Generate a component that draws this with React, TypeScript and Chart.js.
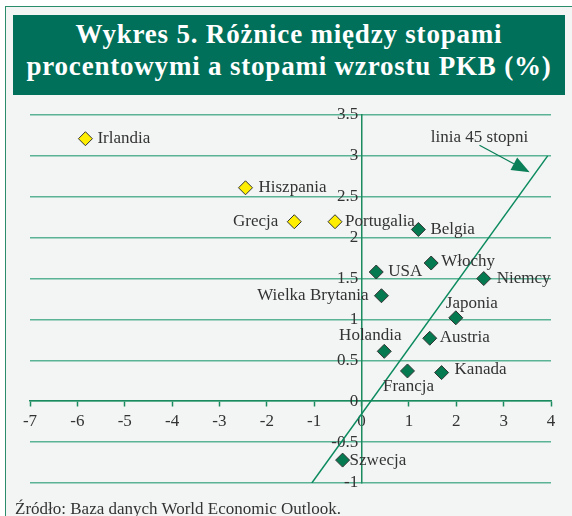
import React, { useEffect, useRef } from 'react';
import { Chart, registerables } from 'chart.js';

Chart.register(...registerables);

// ---- data ----
const peripheryCountries = ['Irlandia', 'Hiszpania', 'Grecja', 'Portugalia'];
const peripheryX = [-5.83, -2.45, -1.42, -0.56];
const peripheryY = [3.21, 2.61, 2.195, 2.195];

const coreCountries = ['Belgia', 'Włochy', 'USA', 'Niemcy', 'Wielka Brytania', 'Japonia', 'Austria', 'Holandia', 'Francja', 'Kanada', 'Szwecja'];
const coreX = [1.2, 1.47, 0.31, 2.58, 0.42, 1.99, 1.44, 0.48, 0.97, 1.69, -0.4];
const coreY = [2.1, 1.69, 1.58, 1.5, 1.29, 1.02, 0.77, 0.61, 0.37, 0.35, -0.72];

const refLineX = [-1.05, 3.93];
const refLineY = [-1, 3];

const xTickRange = [-7, 4];
const yTickRange = [-1, 3.5];

const annotationText = 'linia 45 stopni';
const annotationTextPos = [2.49, 3.22];
const arrowFrom = [2.49, 3.13];
const arrowTo = [3.55, 2.8];

const titleLines = ['Wykres 5. Różnice między stopami', 'procentowymi a stopami wzrostu PKB (%)'];
const sourceText = 'Źródło: Baza danych World Economic Outlook.';

// ---- label placement (style) ----
const labelPlacement: Record<string, [number, number, CanvasTextAlign]> = {
  'Irlandia': [12, 0, 'left'],
  'Hiszpania': [13, 0, 'left'],
  'Grecja': [-16, 0, 'right'],
  'Portugalia': [10, 0, 'left'],
  'Belgia': [12, 0, 'left'],
  'Włochy': [10, -1, 'left'],
  'USA': [12, 0, 'left'],
  'Niemcy': [13, 0, 'left'],
  'Wielka Brytania': [-13, 0, 'right'],
  'Japonia': [-10, -14, 'left'],
  'Austria': [10, -1, 'left'],
  'Holandia': [-14, -16, 'center'],
  'Francja': [1, 16, 'center'],
  'Kanada': [13, -3, 'left'],
  'Szwecja': [7, 0, 'left'],
};

const GREEN = '#1b8a5f';
const GRID = '#5ab493';
const TEXT = '#333333';
const FONT = '"Liberation Serif", "Times New Roman", serif';

const labelsPlugin = {
  id: 'pointLabels',
  afterDatasetsDraw(chart: any) {
    const { ctx } = chart;
    const xs = chart.scales.x;
    const ys = chart.scales.y;
    ctx.save();
    ctx.font = '17px ' + FONT;
    ctx.fillStyle = TEXT;
    ctx.textBaseline = 'middle';
    const groups: [string[], number[], number[]][] = [
      [peripheryCountries, peripheryX, peripheryY],
      [coreCountries, coreX, coreY],
    ];
    for (const [names, xv, yv] of groups) {
      names.forEach((name, i) => {
        const [dx, dy, align] = labelPlacement[name];
        ctx.textAlign = align;
        ctx.fillText(name, xs.getPixelForValue(xv[i]) + dx, ys.getPixelForValue(yv[i]) + dy);
      });
    }
    // annotation
    ctx.textAlign = 'center';
    ctx.fillText(annotationText, xs.getPixelForValue(annotationTextPos[0]), ys.getPixelForValue(annotationTextPos[1]));
    const x1 = xs.getPixelForValue(arrowFrom[0]);
    const y1 = ys.getPixelForValue(arrowFrom[1]);
    const x2 = xs.getPixelForValue(arrowTo[0]);
    const y2 = ys.getPixelForValue(arrowTo[1]);
    const ang = Math.atan2(y2 - y1, x2 - x1);
    const headLen = 18;
    const headHalf = 7;
    const bx = x2 - headLen * Math.cos(ang);
    const by = y2 - headLen * Math.sin(ang);
    ctx.strokeStyle = '#0b7f57';
    ctx.fillStyle = '#0b7f57';
    ctx.lineWidth = 1.3;
    ctx.beginPath();
    ctx.moveTo(x1, y1);
    ctx.lineTo(bx, by);
    ctx.stroke();
    ctx.beginPath();
    ctx.moveTo(x2, y2);
    ctx.lineTo(bx + headHalf * Math.sin(ang), by - headHalf * Math.cos(ang));
    ctx.lineTo(bx - headHalf * Math.sin(ang), by + headHalf * Math.cos(ang));
    ctx.closePath();
    ctx.fill();
    ctx.restore();
  },
};

function ScatterChart() {
  const ref = useRef<HTMLCanvasElement>(null);
  useEffect(() => {
    if (!ref.current) return;
    const chart = new Chart(ref.current, {
      type: 'scatter',
      data: {
        datasets: [
          {
            type: 'line',
            data: refLineX.map((x, i) => ({ x, y: refLineY[i] })),
            borderColor: '#0b8a5e',
            borderWidth: 1.5,
            pointRadius: 0,
            fill: false,
          } as any,
          {
            data: peripheryX.map((x, i) => ({ x, y: peripheryY[i] })),
            backgroundColor: '#ffee00',
            borderColor: '#333',
            borderWidth: 1,
            pointStyle: 'rectRot',
            pointRadius: 7,
          },
          {
            data: coreX.map((x, i) => ({ x, y: coreY[i] })),
            backgroundColor: '#05794f',
            borderColor: '#333',
            borderWidth: 1,
            pointStyle: 'rectRot',
            pointRadius: 7,
          },
        ],
      },
      options: {
        animation: false,
        responsive: false,
        events: [],
        layout: { padding: { left: 30, right: 21, top: 115, bottom: 33 } },
        plugins: { legend: { display: false }, tooltip: { enabled: false } },
        scales: {
          x: {
            type: 'linear',
            position: { y: 0 } as any,
            min: xTickRange[0],
            max: xTickRange[1],
            ticks: { stepSize: 1, color: TEXT, font: { family: FONT, size: 17 }, padding: 5, callback: (v: any) => String(v) },
            grid: { drawOnChartArea: false, tickLength: 5, tickColor: GREEN, tickWidth: 1.5 },
            border: { color: GREEN, width: 1.5 },
            afterFit: (s: any) => { s.height = 0; },
          },
          y: {
            type: 'linear',
            position: { x: 0 } as any,
            min: yTickRange[0],
            max: yTickRange[1],
            ticks: { stepSize: 0.5, color: TEXT, font: { family: FONT, size: 17 }, padding: 0, callback: (v: any) => String(v) + '\u2009' },
            grid: { color: GRID, lineWidth: 1.5, tickLength: 0 },
            border: { color: GREEN, width: 1.5 },
            afterFit: (s: any) => { s.width = 0; },
          },
        },
      },
      plugins: [labelsPlugin],
    });
    return () => chart.destroy();
  }, []);
  return <canvas ref={ref} width={572} height={516} style={{ position: 'absolute', left: 0, top: 0 }} />;
}

export default function App() {
  return (
    <div style={{ position: 'fixed', left: 0, top: 0, width: 572, height: 516, background: '#ffffff', overflow: 'hidden' }}>
      <div style={{ position: 'absolute', left: 5, top: 6, width: 580, height: 520, borderLeft: '1.5px solid #2b8c6c', borderTop: '1.5px solid #2b8c6c', background: '#f3f5f4' }} />
      <div style={{ position: 'absolute', left: 13, top: 15, width: 552, height: 80, background: '#00705a', color: '#ffffff', fontFamily: FONT, fontWeight: 'bold', fontSize: 27, lineHeight: '32px', textAlign: 'center', letterSpacing: 0.8, paddingTop: 3, boxSizing: 'border-box' }}>
        <div>{titleLines[0]}</div>
        <div>{titleLines[1]}</div>
      </div>
      <ScatterChart />
      <div style={{ position: 'absolute', left: 15, top: 499, fontFamily: FONT, fontSize: 17, lineHeight: '20px', color: TEXT, whiteSpace: 'nowrap' }}>{sourceText}</div>
    </div>
  );
}
